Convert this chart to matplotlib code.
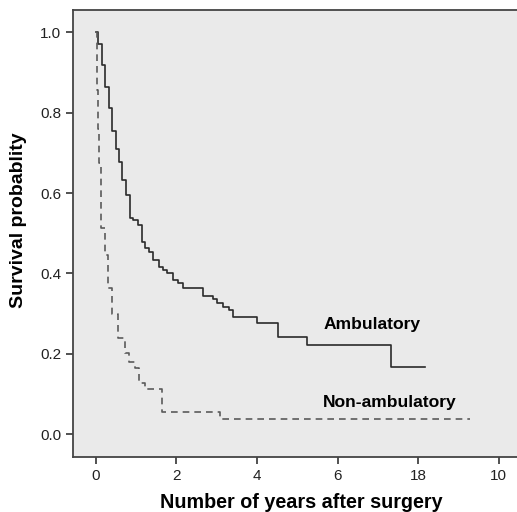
import numpy as np
import matplotlib as mpl
mpl.use('Agg')
import matplotlib.pyplot as plt

mpl.rc('font', family=['Liberation Sans', 'DejaVu Sans'], size=11)

# Kaplan-Meier step data
amb_t = [0.0, 0.065, 0.149, 0.23, 0.33, 0.41, 0.50, 0.58, 0.66, 0.74, 0.85, 0.915,
         1.05, 1.16, 1.22, 1.33, 1.41, 1.58, 1.66, 1.76, 1.92, 2.05, 2.17, 2.65,
         2.92, 3.0, 3.15, 3.30, 3.41, 4.0, 4.51, 5.25, 7.32, 8.17]
amb_s = [1.0, 0.971, 0.919, 0.863, 0.812, 0.754, 0.71, 0.678, 0.633, 0.595, 0.537, 0.533,
         0.52, 0.479, 0.463, 0.454, 0.434, 0.417, 0.409, 0.40, 0.384, 0.376, 0.363, 0.344,
         0.336, 0.326, 0.317, 0.308, 0.291, 0.276, 0.243, 0.223, 0.168, 0.168]

non_t = [0.0, 0.02, 0.05, 0.09, 0.14, 0.23, 0.31, 0.40, 0.56, 0.73, 0.83, 0.98,
         1.07, 1.22, 1.64, 3.08, 9.29]
non_s = [1.0, 0.857, 0.76, 0.674, 0.512, 0.447, 0.364, 0.30, 0.24, 0.202, 0.181, 0.164,
         0.127, 0.112, 0.056, 0.037, 0.037]

xticks = [0, 2, 4, 6, 8, 10]
xticklabels = ['0', '2', '4', '6', '18', '10']
yticks = [0.0, 0.2, 0.4, 0.6, 0.8, 1.0]

fig = plt.figure(figsize=(5.17, 5.12), dpi=100)
ax = fig.add_axes([73/517, 1 - 457/512, 1 - 73/517, (457 - 10)/512])
ax.set_facecolor('#eaeaea')

ax.step(amb_t, amb_s, where='post', color='#2b2b2b', lw=1.2)
ax.step(non_t, non_s, where='post', color='#5a5a5a', lw=1.2, linestyle=(0, (4, 3)))

ax.text(5.64, 0.272, 'Ambulatory', fontsize=12.6, fontweight='bold', va='center', ha='left')
ax.text(5.64, 0.078, 'Non-ambulatory', fontsize=12.6, fontweight='bold', va='center', ha='left')

ax.set_xlim(-0.563, 10.45)
ax.set_ylim(-0.0565, 1.0555)
ax.set_xticks(xticks)
ax.set_xticklabels(xticklabels)
ax.set_yticks(yticks)
ax.set_yticklabels(['%.1f' % v for v in yticks])
ax.tick_params(direction='out', length=5, width=1.2, color='#333333', labelcolor='#222222')
for s in ['left', 'top', 'bottom']:
    ax.spines[s].set_color('#444444')
    ax.spines[s].set_linewidth(1.3)
ax.spines['right'].set_visible(False)

ax.set_xlabel('Number of years after surgery', fontsize=14.2, fontweight='bold')
ax.set_ylabel('Survival probablity', fontsize=14, fontweight='bold')
ax.xaxis.set_label_coords(0.5135, -0.0805)
ax.yaxis.set_label_coords(-0.1036, 0.530)

plt.savefig('out.png', dpi=100)
plt.close()
